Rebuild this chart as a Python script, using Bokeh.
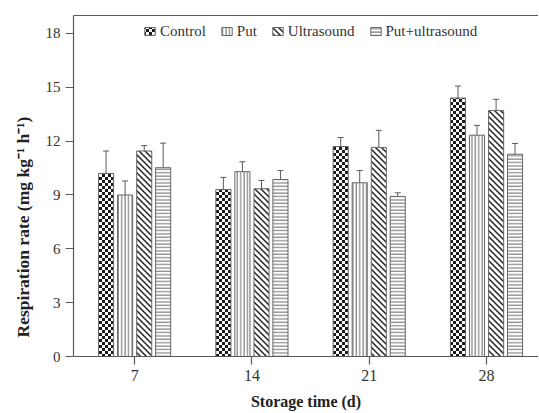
from bokeh.plotting import figure
from bokeh.core.properties import value
from bokeh.models import (ColumnDataSource, Range1d, FixedTicker, Whisker, TeeHead,
                          Legend, LegendItem, Title, LinearAxis, CanvasTexture)
from bokeh.transform import dodge
from bokeh.embed import file_html
from bokeh.resources import INLINE

# ---- data ----
days = [7, 14, 21, 28]
series_names = ["Control", "Put", "Ultrasound", "Put+ultrasound"]
control = [10.2, 9.3, 11.7, 14.4]
control_err = [1.25, 0.68, 0.5, 0.67]
put = [9.0, 10.3, 9.68, 12.33]
put_err = [0.78, 0.55, 0.68, 0.55]
ultrasound = [11.45, 9.35, 11.65, 13.71]
ultrasound_err = [0.3, 0.46, 0.95, 0.62]
put_ultrasound = [10.52, 9.86, 8.92, 11.27]
put_ultrasound_err = [1.37, 0.5, 0.2, 0.6]
y_ticks = [0, 3, 6, 9, 12, 15, 18]

values = [control, put, ultrasound, put_ultrasound]
errors = [control_err, put_err, ultrasound_err, put_ultrasound_err]

SERIF = "Liberation Serif"
AXIS_COL = "#5a5a5a"
TEXT_COL = "#333333"

checker = CanvasTexture(code="""
const c = ctx.canvas;
c.width = 6;
c.height = 6;
const g = c.getContext('2d');
g.fillStyle = '#ffffff';
g.fillRect(0, 0, 6, 6);
g.fillStyle = '#1a1a1a';
g.fillRect(0, 0, 3, 3);
g.fillRect(3, 3, 3, 3);
""")

diag = CanvasTexture(code="""
const c = ctx.canvas;
c.width = 6;
c.height = 6;
const g = c.getContext('2d');
g.fillStyle = '#ffffff';
g.fillRect(0, 0, 6, 6);
g.strokeStyle = '#222222';
g.lineWidth = 1.5;
for (const x0 of [-6, 0, 6]) {
  g.beginPath();
  g.moveTo(x0 - 1, -1);
  g.lineTo(x0 + 7, 7);
  g.stroke();
}
""")

p = figure(width=538, height=412, output_backend="svg", toolbar_location=None,
           x_range=Range1d(3.35, 31.1), y_range=Range1d(0, 19),
           min_border_left=73, min_border_right=0, min_border_top=15, min_border_bottom=50)
p.outline_line_color = None
p.grid.grid_line_color = None
p.background_fill_color = "white"

offsets = [-1.705, -0.57, 0.57, 1.70]
bar_w = 0.9
styles = [
    dict(hatch_pattern=value("checker"), hatch_extra={"checker": checker}, hatch_color="#1a1a1a", hatch_scale=6),
    dict(hatch_pattern="vertical_line", hatch_color="#6a6a6a", hatch_scale=3.4, hatch_weight=1),
    dict(hatch_pattern=value("diag"), hatch_extra={"diag": diag}, hatch_color="#222222", hatch_scale=6),
    dict(hatch_pattern="horizontal_line", hatch_color="#6a6a6a", hatch_scale=3.4, hatch_weight=1),
]

items = []
for name, vals, errs, off, st in zip(series_names, values, errors, offsets, styles):
    src = ColumnDataSource(dict(
        days=days, v=vals,
        upper=[a + b for a, b in zip(vals, errs)],
        lower=[a - b for a, b in zip(vals, errs)],
    ))
    r = p.vbar(x=dodge("days", off, range=p.x_range), top="v", width=bar_w, source=src,
               fill_color="white", line_color="#666666", line_width=1, **st)
    w = Whisker(source=src, base=dodge("days", off, range=p.x_range), upper="upper", lower="lower",
                line_color=AXIS_COL, line_width=1,
                upper_head=TeeHead(size=6, line_color=AXIS_COL, line_width=1),
                lower_head=None)
    p.add_layout(w)
    items.append(LegendItem(label=name, renderers=[r]))

legend = Legend(items=items, orientation="horizontal", location=(70, 316),
                glyph_width=13, glyph_height=10, label_standoff=4, spacing=14,
                padding=0, margin=0, border_line_color=None, background_fill_alpha=0,
                label_text_font=SERIF, label_text_font_size="15px", label_text_color=TEXT_COL,
                label_height=18)
p.add_layout(legend)

# axes
xa = p.xaxis[0]
ya = p.yaxis[0]
xa.ticker = FixedTicker(ticks=days)
ya.ticker = FixedTicker(ticks=y_ticks)
for ax in (xa, ya):
    ax.axis_line_color = AXIS_COL
    ax.axis_line_width = 1.2
    ax.major_tick_line_color = AXIS_COL
    ax.major_tick_line_width = 1.2
    ax.major_tick_out = 8
    ax.major_tick_in = 0
    ax.minor_tick_line_color = None
    ax.major_label_text_font = SERIF
    ax.major_label_text_color = TEXT_COL
    ax.major_label_standoff = 5
xa.major_label_text_font_size = "16px"
ya.major_label_text_font_size = "15px"
xa.axis_label = "Storage time (d)"
xa.axis_label_text_font = SERIF
xa.axis_label_text_font_style = "bold"
xa.axis_label_text_font_size = "16px"
xa.axis_label_text_color = "#222222"
xa.axis_label_standoff = 9

# top frame line as an unlabeled axis
top_axis = LinearAxis(ticker=FixedTicker(ticks=[]), axis_line_color=AXIS_COL, axis_line_width=1.2,
                      major_tick_line_color=None, minor_tick_line_color=None,
                      major_label_text_font_size="0px", major_label_standoff=0)
p.add_layout(top_axis, "above")

ytitle = Title(text="Respiration rate (mg kg\u207b\u00b9 h\u207b\u00b9)", align="left", offset=19,
               text_font=SERIF, text_font_style="bold", text_font_size="17.5px",
               text_color="#222222", standoff=19)
p.add_layout(ytitle, "left")

open("out.html", "w").write(file_html(p, INLINE))
